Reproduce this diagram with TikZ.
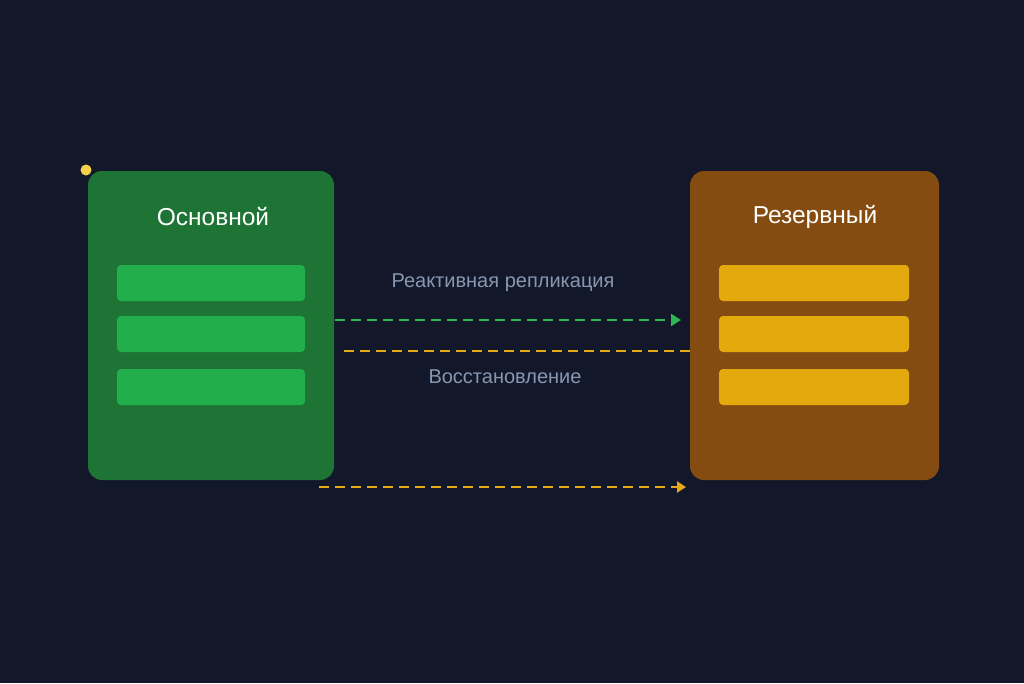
\documentclass[tikz,border=0pt]{standalone}
\usepackage{fontspec}
\setmainfont{Liberation Sans}
\usetikzlibrary{arrows.meta}
\definecolor{bgc}{HTML}{121829}
\definecolor{gboxc}{HTML}{1D7435}
\definecolor{gbarc}{HTML}{22AE4A}
\definecolor{oboxc}{HTML}{854C12}
\definecolor{ybarc}{HTML}{E4A90C}
\definecolor{garr}{HTML}{2DB84F}
\definecolor{yarr}{HTML}{E8A918}
\definecolor{lblc}{HTML}{8797B2}
\definecolor{dotc}{HTML}{F5D04A}
\begin{document}
\begin{tikzpicture}[x=1pt,y=-1pt,
  box/.style={rounded corners=14pt,draw=none},
  bar/.style={rounded corners=4pt,draw=none},
  ttl/.style={text=white,font=\fontsize{24.5}{28}\selectfont},
  lab/.style={text=lblc,font=\fontsize{20}{24}\selectfont},
  dsh/.style={line width=2.6pt,dash pattern=on 10pt off 6pt}]
\fill[bgc] (0,0) rectangle (1024,683);
\useasboundingbox (0,0) rectangle (1024,683);
% left
\fill[box,fill=gboxc] (88,171) rectangle (334,480);
\node[ttl] (t1) at (213,217) {Основной};
\fill[bar,fill=gbarc] (117,265) rectangle (305,301);
\fill[bar,fill=gbarc] (117,316) rectangle (305,352);
\fill[bar,fill=gbarc] (117,369) rectangle (305,405);
% right
\fill[box,fill=oboxc] (690,171) rectangle (939,480);
\node[ttl] (t2) at (815,217) {Резервный};
\fill[bar,fill=ybarc] (719,265) rectangle (909,301);
\fill[bar,fill=ybarc] (719,316) rectangle (909,352);
\fill[bar,fill=ybarc] (719,369) rectangle (909,405);
% arrows
\coordinate (a1) at (335,320); \coordinate (a2) at (681,320);
\draw[dsh,garr,-{Triangle[length=10pt,width=12pt]}] (a1) -- (a2);
\coordinate (b1) at (342,351); \coordinate (b2) at (690,351);
\draw[dsh,yarr] (b2) -- (b1);
\coordinate (c1) at (319,487); \coordinate (c2) at (686,487);
\draw[dsh,yarr,-{Triangle[length=9pt,width=11pt]}] (c1) -- (c2);
\node[lab] (l1) at (503,283) {Реактивная репликация};
\node[lab] (l2) at (505,377) {Восстановление};
\fill[dotc] (86,170) circle (5.5);
\end{tikzpicture}
\end{document}
